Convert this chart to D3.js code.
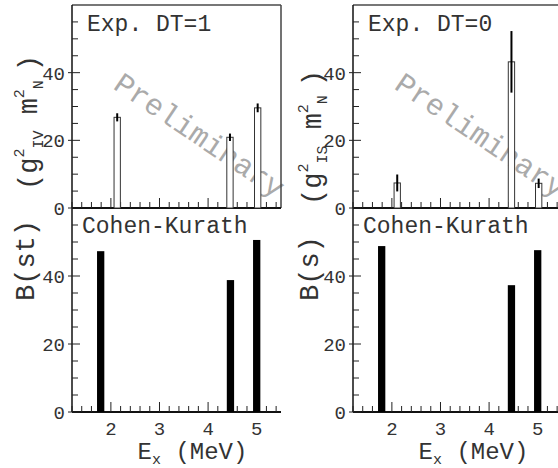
<!DOCTYPE html>
<html>
<head>
  <meta charset="UTF-8">
  <script type="text/javascript" src="https://cdn.jsdelivr.net/npm/d3@7"></script>
  <style>
    body { margin: 0; background: #fff; }
    svg { display: block; }
    text { font-family: "Liberation Mono", "Courier New", monospace; fill: #333; }
  </style>
</head>
<body>
<svg width="558" height="468"></svg>
<script type="text/javascript">

  // measured strengths, Exp. DT=1 (isovector)
  var expIVEnergy = [2.13, 4.45, 5.02];
  var expIVValue  = [26.8, 20.9, 29.6];
  var expIVError  = [1.2, 1.1, 1.3];

  // measured strengths, Exp. DT=0 (isoscalar)
  var expISEnergy = [2.11, 4.46, 5.02];
  var expISValue  = [7.4, 43.2, 7.3];
  var expISError  = [2.5, 9.1, 1.4];

  // Cohen-Kurath
  var ckEnergy = [1.79, 4.46, 5.0];
  var ckST     = [47.3, 38.8, 50.6];
  var ckS      = [48.8, 37.3, 47.6];

  var xTickLabels = [2, 3, 4, 5];
  var yTickLabels = [0, 20, 40];

  var xDomain = [1.2, 5.5];
  var yDomain = [0, 60];

  var svg = d3.select("svg");

  var top0 = 5, mid = 208, bot = 412;

  var columns = [
    {
      x0: 72, x1: 281, rightBorder: true,
      exp: { e: expIVEnergy, v: expIVValue, err: expIVError },
      ck: ckST,
      title: "Exp. DT=1",
      ylab: { sub: "IV", y: 190, x: 37 },
      blab: { text: "B(st)", y: 301, x: 34 }
    },
    {
      x0: 353, x1: 562, rightBorder: false,
      exp: { e: expISEnergy, v: expISValue, err: expISError },
      ck: ckS,
      title: "Exp. DT=0",
      ylab: { sub: "IS", y: 205, x: 321 },
      blab: { text: "B(s)", y: 301, x: 318 }
    }
  ];

  function yTicks(g, y, x0) {
    d3.range(0, 60, 5).forEach(function(v) {
      var major = yTickLabels.indexOf(v) >= 0;
      g.append("line")
          .attr("x1", major ? x0 - 4 : x0).attr("x2", x0 + (major ? 8 : 6))
          .attr("y1", y(v)).attr("y2", y(v))
          .attr("stroke", "#222").attr("stroke-width", 1);
    });
    yTickLabels.forEach(function(v) {
      g.append("text")
          .attr("x", x0 - 7).attr("y", y(v) + 7)
          .attr("text-anchor", "end")
          .attr("font-size", 19)
          .text(v);
    });
  }

  function xTicks(g, x, yLine) {
    d3.range(12, 56, 2).forEach(function(k) {
      var v = k / 10;
      var major = k % 10 === 0;
      g.append("line")
          .attr("x1", x(v)).attr("x2", x(v))
          .attr("y1", yLine).attr("y2", yLine - (major ? 10 : 6))
          .attr("stroke", "#222").attr("stroke-width", 1);
    });
  }

  columns.forEach(function(col) {
    var g = svg.append("g");

    var x = d3.scaleLinear().domain(xDomain).range([col.x0, col.x1]);
    var yTop = d3.scaleLinear().domain(yDomain).range([mid, top0]);
    var yBot = d3.scaleLinear().domain(yDomain).range([bot, mid]);

    // watermark
    g.append("text")
        .attr("transform", "translate(" + (col.x0 + 40) + ",88) rotate(34)")
        .attr("font-size", 30)
        .style("fill", "#aaa")
        .text("Preliminary");

    // frame
    g.append("line")
        .attr("x1", col.x0).attr("x2", col.x1).attr("y1", top0).attr("y2", top0)
        .attr("stroke", "#777").attr("stroke-width", 2);
    if (col.rightBorder) {
      g.append("line")
          .attr("x1", col.x1).attr("x2", col.x1).attr("y1", top0).attr("y2", mid)
          .attr("stroke", "#444").attr("stroke-width", 1.5);
    }
    g.append("line")
        .attr("x1", col.x0).attr("x2", col.x0).attr("y1", top0).attr("y2", bot)
        .attr("stroke", "#111").attr("stroke-width", 1.5);
    [mid, bot].forEach(function(yy) {
      g.append("line")
          .attr("x1", col.x0).attr("x2", col.x1).attr("y1", yy).attr("y2", yy)
          .attr("stroke", "#111").attr("stroke-width", 2);
    });

    yTicks(g, yTop, col.x0);
    yTicks(g, yBot, col.x0);
    xTicks(g, x, mid);
    xTicks(g, x, bot);

    // experimental bars (open) with error bars
    var bw = 0.13;
    col.exp.e.forEach(function(e, i) {
      var v = col.exp.v[i], err = col.exp.err[i];
      g.append("rect")
          .attr("x", x(e - bw / 2)).attr("width", x(e + bw / 2) - x(e - bw / 2))
          .attr("y", yTop(v)).attr("height", yTop(0) - yTop(v))
          .attr("fill", "#fff").attr("stroke", "#333").attr("stroke-width", 1);
      g.append("line")
          .attr("x1", x(e)).attr("x2", x(e))
          .attr("y1", yTop(v - err)).attr("y2", yTop(v + err))
          .attr("stroke", "#000").attr("stroke-width", 2);
    });

    // Cohen-Kurath bars (filled)
    var cw = 0.15;
    ckEnergy.forEach(function(e, i) {
      var v = col.ck[i];
      g.append("rect")
          .attr("x", x(e - cw / 2)).attr("width", x(e + cw / 2) - x(e - cw / 2))
          .attr("y", yBot(v)).attr("height", yBot(0) - yBot(v))
          .attr("fill", "#000");
    });

    // x tick labels
    xTickLabels.forEach(function(v) {
      g.append("text")
          .attr("x", x(v)).attr("y", 435)
          .attr("text-anchor", "middle")
          .attr("font-size", 19)
          .text(v);
    });

    // panel titles
    g.append("text")
        .attr("x", col.x0 + 15).attr("y", 31)
        .attr("font-size", 23)
        .text(col.title);
    g.append("text")
        .attr("x", col.x0 + 10).attr("y", 233)
        .attr("font-size", 23)
        .text("Cohen-Kurath");

    // x axis title
    var xt = g.append("text")
        .attr("x", (col.x0 + col.x1) / 2 + 16).attr("y", 459)
        .attr("text-anchor", "middle")
        .attr("font-size", 24);
    xt.append("tspan").text("E");
    xt.append("tspan").attr("font-size", 15).attr("dy", 5).text("x");
    xt.append("tspan").attr("dy", -5).text(" (MeV)");

    // y axis titles
    var yl = g.append("text")
        .attr("transform", "translate(" + col.ylab.x + "," + col.ylab.y + ") rotate(-90)")
        .attr("font-size", 27);
    yl.append("tspan").text("(g");
    yl.append("tspan").attr("font-size", 15).attr("dy", -13).text("2");
    yl.append("tspan").attr("font-size", 15).attr("dy", 19).text(col.ylab.sub);
    yl.append("tspan").attr("dy", -6).text(" m");
    yl.append("tspan").attr("font-size", 15).attr("dy", -13).text("2");
    yl.append("tspan").attr("font-size", 15).attr("dy", 19).text("N ");
    yl.append("tspan").attr("dy", -6).text(")");

    g.append("text")
        .attr("transform", "translate(" + col.blab.x + "," + col.blab.y + ") rotate(-90)")
        .attr("font-size", 27)
        .text(col.blab.text);
  });
</script>
</body>
</html>
